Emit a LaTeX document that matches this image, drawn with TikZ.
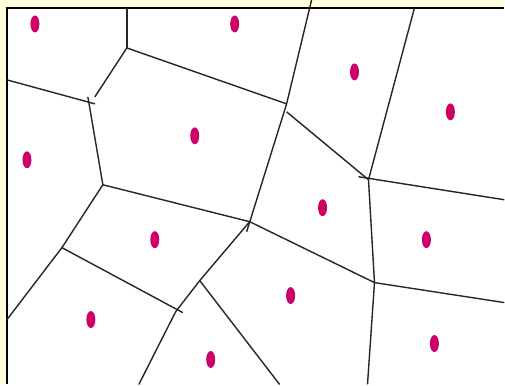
\documentclass[tikz,border=0pt]{standalone}
\usepackage{xcolor}
\usetikzlibrary{shapes.geometric}

\definecolor{sitecol}{HTML}{CC0066}
\definecolor{paper}{HTML}{FFFFDC}

\begin{document}
\begin{tikzpicture}[x=0.02cm, y=-0.02cm, line width=0.8pt,
  site/.style={ellipse, fill=sitecol, inner sep=0pt, minimum width=0.18cm, minimum height=0.34cm},
  edge/.style={draw=black!85}]

% Background and frame
\fill[paper] (0,0) rectangle (505,385);
\fill[white] (7,8) rectangle (505,385);
\draw (7,385) -- (7,8) -- (505,8);
\useasboundingbox (0,0) rectangle (505,385);

% Sites
\node[site] (s1) at (35,24) {};
\node[site] (s2) at (235,24) {};
\node[site] (s3) at (355,72) {};
\node[site] (s4) at (451,112) {};
\node[site] (s5) at (27,160) {};
\node[site] (s6) at (195,136) {};
\node[site] (s7) at (323,208) {};
\node[site] (s8) at (427,240) {};
\node[site] (s9) at (155,240) {};
\node[site] (s10) at (291,296) {};
\node[site] (s11) at (91,320) {};
\node[site] (s12) at (211,360) {};
\node[site] (s13) at (435,344) {};

% Voronoi vertices
\coordinate (v1) at (127,48);
\coordinate (v2) at (95,97);
\coordinate (v3) at (287,104);
\coordinate (v4) at (103,185);
\coordinate (v5) at (250,222);
\coordinate (v6) at (369,180);
\coordinate (v7) at (375,283);
\coordinate (v8) at (62,248);
\coordinate (v9) at (200,281);
\coordinate (v10) at (176,312);

% Border ends
\coordinate (b1) at (127,8);
\coordinate (b2) at (312,0);
\coordinate (b3) at (415,8);
\coordinate (b4) at (7,80);
\coordinate (b5) at (7,320);
\coordinate (b6) at (505,200);
\coordinate (b7) at (505,303);
\coordinate (b8) at (368,385);
\coordinate (b9) at (280,385);
\coordinate (b10) at (139,385);

% Small overshoots
\coordinate (o1) at (88,97);
\coordinate (o2) at (95,104);
\coordinate (o3) at (247,232);
\coordinate (o4) at (287,112);
\coordinate (o5) at (359,177);
\coordinate (o6) at (183,313);

% Edges
\draw[edge] (b1) -- (v1);
\draw[edge] (v1) -- (v2);
\draw[edge] (v1) -- (v3);
\draw[edge] (b4) -- (o2);
\draw[edge] (o1) -- (v4);
\draw[edge] (v4) -- (v8) -- (b5);
\draw[edge] (v4) -- (v5);
\draw[edge] (b2) -- (v3) -- (o3);
\draw[edge] (o4) -- (v6);
\draw[edge] (b3) -- (v6);
\draw[edge] (o5) -- (b6);
\draw[edge] (v6) -- (v7);
\draw[edge] (v5) -- (v7);
\draw[edge] (v7) -- (b7);
\draw[edge] (v7) -- (b8);
\draw[edge] (v5) -- (v9) -- (v10) -- (b10);
\draw[edge] (v9) -- (b9);
\draw[edge] (v8) -- (o6);

\end{tikzpicture}
\end{document}
